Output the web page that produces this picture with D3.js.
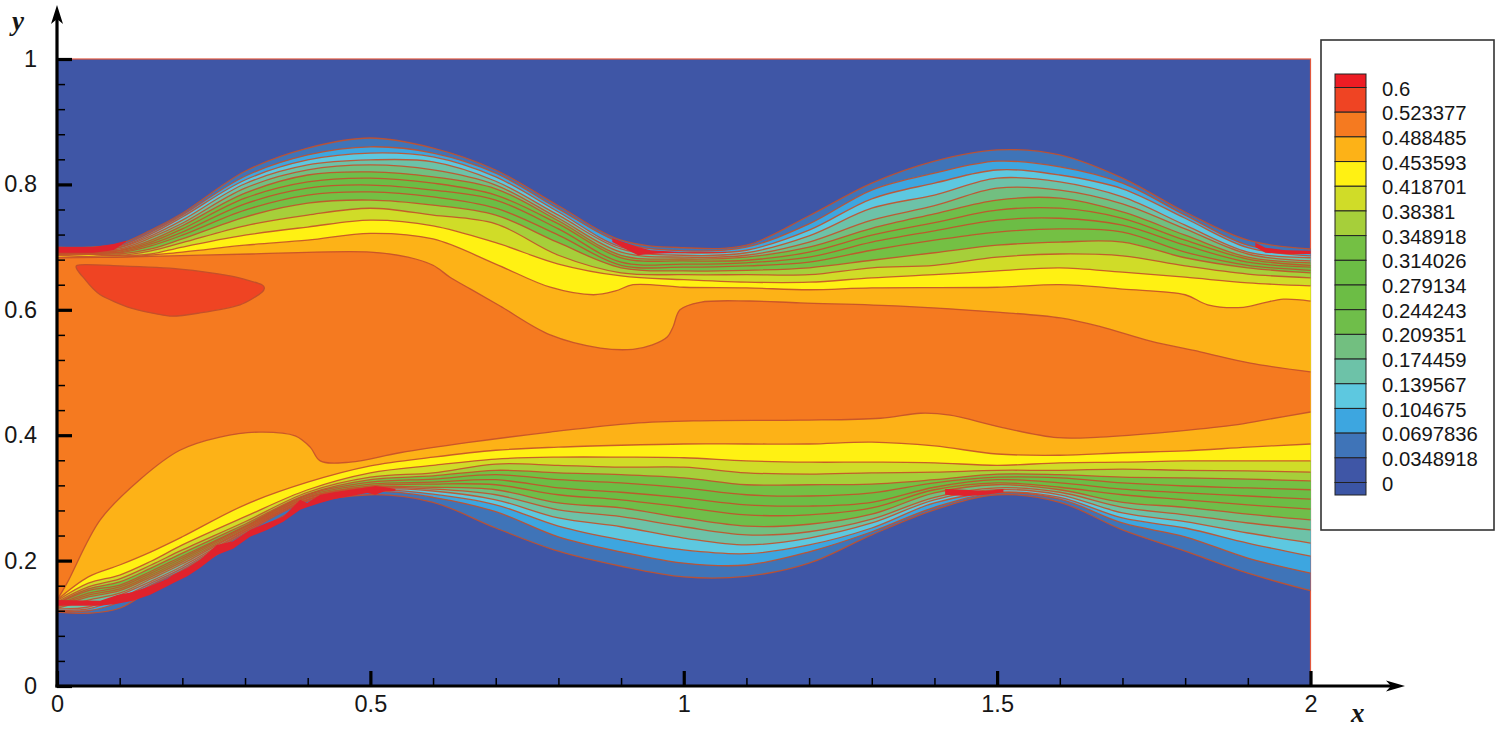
<!DOCTYPE html>
<html>
<head>
<meta charset="utf-8">
<script src="https://cdn.jsdelivr.net/npm/d3@7"></script>
<style>
    body { margin: 0; background: #fff; }
    text { font-family: "Liberation Sans", Arial, sans-serif; fill: #161616; }
    .axlabel { font-family: "Liberation Serif", serif; font-weight: bold; font-style: italic; font-size: 27px; }
    .contour { fill: none; stroke: #c4502a; stroke-width: 1.3; stroke-opacity: 0.9; }
</style>
</head>
<body>
<script>
// Legend
const levels = ["0.6", "0.523377", "0.488485", "0.453593", "0.418701", "0.38381", "0.348918",
    "0.314026", "0.279134", "0.244243", "0.209351", "0.174459", "0.139567", "0.104675",
    "0.0697836", "0.0348918", "0"];
const legendColors = ["#ed1c24", "#ef4423", "#f57a20", "#fdb217", "#fff113", "#d0dc28", "#a6cf3a",
    "#74c044", "#6cbd45", "#6cbd45", "#6fbe4a", "#72bf80", "#6dc2a8", "#5dc8e0", "#3da6e0",
    "#3f74b8", "#3f56a6", "#3b55a5"];

// Fill inside each contour, outermost first
const bandColors = ["#3f74b8", "#3da6e0", "#5dc8e0", "#6dc2a8", "#72bf80", "#6fbe4a", "#6cbd45",
    "#6cbd45", "#74c044", "#a6cf3a", "#d0dc28", "#fff113", "#fdb217", "#f57a20"];

const xMajor = [0, 0.5, 1, 1.5, 2];
const xMinor = [0.1, 0.2, 0.3, 0.4, 0.6, 0.7, 0.8, 0.9, 1.1, 1.2, 1.3, 1.4, 1.6, 1.7, 1.8, 1.9];
const yMajor = [0, 0.2, 0.4, 0.6, 0.8, 1];
const yMinor = [0.04, 0.08, 0.12, 0.16, 0.24, 0.28, 0.32, 0.36, 0.44, 0.48, 0.52, 0.56,
    0.64, 0.68, 0.72, 0.76, 0.84, 0.88, 0.92, 0.96];

// x stations at which the twelve outer contours were read
const stationX = [0, 0.05, 0.1, 0.15, 0.2, 0.3, 0.4, 0.5, 0.6, 0.7, 0.8, 0.9, 1, 1.1, 1.2, 1.3,
    1.4, 1.5, 1.6, 1.7, 1.8, 1.9, 2];

// one row per station, outer contour first
const upperRows = [
    [.700, .699, .697, .695, .694, .693, .692, .691, .691, .690, .689, .688],
    [.700, .699, .697, .695, .694, .693, .692, .691, .691, .690, .689, .688],
    [.705, .702, .700, .699, .697, .695, .694, .692, .691, .689, .687, .686],
    [.727, .724, .721, .718, .715, .711, .708, .705, .702, .697, .694, .689],
    [.754, .751, .748, .743, .738, .734, .729, .724, .719, .713, .707, .700],
    [.821, .813, .807, .801, .794, .786, .778, .769, .759, .748, .734, .719],
    [.858, .847, .839, .831, .823, .815, .804, .794, .783, .770, .751, .732],
    [.874, .860, .850, .839, .831, .820, .810, .799, .788, .775, .762, .743],
    [.858, .850, .844, .836, .823, .812, .802, .791, .780, .767, .751, .734],
    [.823, .818, .812, .805, .799, .793, .783, .775, .762, .751, .737, .707],
    [.766, .761, .756, .751, .746, .742, .737, .729, .719, .707, .687, .673],
    [.711, .707, .700, .697, .692, .687, .683, .676, .671, .667, .659, .654],
    [.699, .694, .691, .687, .684, .681, .678, .673, .668, .662, .656, .648],
    [.703, .700, .695, .691, .687, .684, .679, .675, .670, .663, .656, .644],
    [.750, .737, .727, .718, .708, .700, .692, .684, .676, .667, .656, .644],
    [.802, .791, .777, .762, .743, .730, .719, .708, .695, .679, .667, .651],
    [.837, .818, .802, .783, .766, .753, .739, .726, .711, .691, .671, .656],
    [.855, .837, .823, .810, .794, .775, .759, .743, .724, .703, .684, .662],
    [.847, .828, .815, .804, .791, .778, .762, .746, .729, .708, .689, .667],
    [.810, .802, .793, .780, .769, .756, .746, .735, .724, .708, .686, .660],
    [.756, .751, .746, .735, .729, .719, .711, .703, .692, .683, .670, .652],
    [.711, .703, .699, .692, .689, .684, .681, .676, .671, .667, .657, .643],
    [.697, .691, .686, .683, .678, .675, .671, .668, .663, .659, .651, .638]
];
const lowerRows = [
    [.118, .120, .121, .123, .124, .126, .128, .129, .131, .132, .134, .136],
    [.116, .120, .123, .126, .137, .142, .145, .148, .152, .155, .158, .164],
    [.124, .134, .140, .145, .148, .152, .155, .158, .161, .166, .171, .177],
    [.153, .161, .164, .167, .171, .174, .177, .180, .183, .188, .193, .199],
    [.177, .185, .188, .191, .195, .198, .201, .204, .207, .212, .217, .225],
    [.236, .244, .246, .247, .249, .250, .252, .254, .255, .258, .262, .270],
    [.289, .295, .297, .297, .298, .300, .301, .303, .305, .306, .309, .313],
    [.305, .311, .313, .314, .316, .317, .319, .322, .325, .329, .333, .340],
    [.293, .301, .306, .311, .314, .317, .322, .325, .330, .335, .340, .352],
    [.252, .278, .289, .297, .305, .313, .321, .329, .337, .344, .354, .362],
    [.215, .238, .255, .268, .281, .292, .305, .316, .329, .340, .352, .365],
    [.191, .214, .233, .254, .270, .284, .297, .309, .324, .337, .349, .365],
    [.174, .196, .217, .236, .254, .268, .285, .300, .316, .332, .349, .364],
    [.175, .193, .211, .225, .241, .255, .273, .289, .305, .321, .340, .359],
    [.196, .214, .225, .236, .246, .258, .273, .287, .303, .321, .338, .357],
    [.241, .246, .252, .260, .266, .274, .284, .293, .308, .322, .340, .357],
    [.281, .285, .292, .297, .301, .308, .313, .317, .324, .329, .341, .356],
    [.305, .308, .309, .313, .316, .321, .324, .329, .333, .338, .344, .352],
    [.293, .298, .301, .305, .309, .313, .317, .324, .332, .337, .344, .356],
    [.249, .260, .268, .276, .285, .293, .305, .314, .324, .333, .346, .357],
    [.215, .238, .252, .262, .273, .285, .297, .308, .319, .332, .344, .359],
    [.180, .204, .228, .244, .260, .274, .289, .303, .316, .330, .343, .359],
    [.152, .180, .207, .228, .249, .265, .282, .298, .313, .327, .341, .359]
];

// amber top, upper side
const amberUpX = [0, .101, .2, .3, .4, .5, .6, .7, .787, .856, .891, .919, 1, 1.1, 1.2, 1.3, 1.5, 1.6, 1.7, 1.8, 1.836, 1.893, 1.925, 1.957, 2];
const amberUpY = [.687, .684, .692, .703, .711, .722, .713, .673, .636, .624, .630, .640, .636, .635, .632, .635, .636, .640, .633, .624, .608, .604, .611, .617, .614];
// amber top, lower side
const amberLowX = stationX;
const amberLowY = [.137, .174, .193, .214, .238, .289, .325, .351, .365, .376, .381, .384, .386, .386, .386, .389, .383, .370, .368, .372, .375, .381, .386];
// orange core, upper side
const orangeUpX = [0, .101, .308, .5, .56, .6, .627, .66, .707, .787, .867, .919, .95, .974, .983, .994, 1.026, 1.106, 1.186, 1.346, 1.505, 1.601, 1.665, 1.745, 1.824, 1.904, 2];
const orangeUpY = [.683, .684, .689, .692, .684, .671, .652, .633, .606, .560, .539, .537, .544, .557, .573, .600, .612, .614, .611, .606, .596, .587, .573, .550, .533, .515, .501];
// orange core, lower side
const orangeLowX = [0, .016, .069, .132, .196, .26, .324, .38, .404, .42, .468, .547, .654, .787, .919, 1.026, 1.186, 1.314, 1.378, 1.425, 1.505, 1.596, 1.665, 1.772, 1.877, 1.925, 2];
const orangeLowY = [.137, .164, .265, .329, .376, .397, .405, .399, .381, .359, .357, .372, .388, .405, .419, .423, .424, .427, .435, .432, .413, .396, .397, .405, .416, .424, .437];
// the small 0.523377 island near the inlet
const islandX = [.032, .10, .196, .276, .327, .327, .292, .228, .180, .117, .069, .045];
const islandY = [.671, .670, .665, .654, .640, .628, .608, .595, .590, .603, .624, .648];

// red fringe where the contours pinch together: [x, top, bottom]
const fringeLowerLeft = [[0, .137, .128], [.069, .136, .128], [.096, .145, .131], [.121, .150, .136], [.148, .159, .145],
    [.176, .171, .159], [.185, .177, .164], [.208, .188, .175], [.228, .201, .188], [.255, .225, .209], [.281, .231, .219],
    [.308, .249, .238], [.335, .260, .249], [.361, .270, .262], [.388, .297, .281], [.399, .292, .285], [.42, .305, .292],
    [.441, .309, .298], [.495, .317, .308], [.508, .319, .305], [.524, .317, .311], [.54, .314, .311]];
const fringeUpperLeft = [[0, .700, .691], [.058, .700, .691], [.09, .705, .695], [.11, .710, .708]];
const fringeUpperMid = [[.886, .714, .708], [.907, .707, .697], [.927, .700, .687], [.947, .695, .689], [.994, .692, .691], [1.068, .692, .691]];
const fringeUpperRight = [[1.912, .707, .700], [1.928, .699, .691], [1.96, .695, .689], [2, .694, .689]];
const fringeLowerMid = [[1.417, .314, .305], [1.449, .313, .303], [1.481, .311, .305], [1.51, .314, .309]];

const fig = {
    width: 1500, height: 729,
    plot: {left: 57, right: 1310.5, top: 59, bottom: 686},
    legend: {left: 1321, top: 40, width: 173, height: 490}
};

const x = d3.scaleLinear().domain([0, 2]).range([fig.plot.left, fig.plot.right]);
const y = d3.scaleLinear().domain([0, 1]).range([fig.plot.bottom, fig.plot.top]);

const svg = d3.select("body").append("svg")
    .attr("width", fig.width)
    .attr("height", fig.height);

const myLine = d3.line()
    .x(d => x(d[0]))
    .y(d => y(d[1]))
    .curve(d3.curveCatmullRom.alpha(0.5));

// Each contour is kept as a pair of (x, y) lists, upper branch and lower branch
const upperCols = d3.transpose(upperRows);
const lowerCols = d3.transpose(lowerRows);
const contours = upperCols.map((col, i) => ({
    upper: d3.zip(stationX, col),
    lower: d3.zip(stationX, lowerCols[i])
}));
contours.push({upper: d3.zip(amberUpX, amberUpY), lower: d3.zip(amberLowX, amberLowY)});
contours.push({upper: d3.zip(orangeUpX, orangeUpY), lower: d3.zip(orangeLowX, orangeLowY)});

// Background field
svg.append("rect")
    .attr("x", x(0))
    .attr("y", y(1))
    .attr("width", x(2) - x(0))
    .attr("height", y(0) - y(1))
    .attr("fill", "#3f56a6")
    .attr("stroke", "#e2583e")
    .attr("stroke-width", 1.2);

// Painter's order: every region sits on top of the one around it
svg.append("g").selectAll("path")
    .data(contours)
    .join("path")
    .attr("d", d => myLine(d.upper) + myLine(d.lower.slice().reverse()).replace("M", "L") + "Z")
    .attr("fill", (d, i) => bandColors[i]);

svg.append("g").selectAll("path")
    .data(contours.flatMap(d => [d.upper, d.lower]))
    .join("path")
    .classed("contour", true)
    .attr("d", myLine);

// Red fringes, jagged like the grid cells in the original
const fringeArea = d3.area()
    .x(d => x(d[0]))
    .y0(d => y(d[2]))
    .y1(d => y(d[1]));

svg.append("g").selectAll("path")
    .data([fringeLowerLeft, fringeUpperLeft, fringeUpperMid, fringeUpperRight, fringeLowerMid])
    .join("path")
    .attr("d", fringeArea)
    .attr("fill", "#e0222c");

// Island
svg.append("path")
    .datum(d3.zip(islandX, islandY))
    .attr("d", d3.line().x(d => x(d[0])).y(d => y(d[1])).curve(d3.curveCardinalClosed.tension(0.3)))
    .attr("fill", "#ef4423")
    .attr("stroke", "#c4502a")
    .attr("stroke-width", 1.3);

// Axes
const axisColor = "#000";

function styleAxis(g, width) {
    g.select(".domain").remove();
    g.selectAll(".tick line").attr("stroke", axisColor).attr("stroke-width", width);
}

svg.append("g")
    .attr("transform", "translate(0," + fig.plot.bottom + ")")
    .call(d3.axisBottom(x).tickValues(xMinor).tickSize(-8).tickFormat(""))
    .call(g => styleAxis(g, 1.5));

svg.append("g")
    .attr("transform", "translate(0," + fig.plot.bottom + ")")
    .call(d3.axisBottom(x).tickValues(xMajor).tickSize(-15).tickPadding(0).tickFormat(d => d))
    .call(g => styleAxis(g, 3.2))
    .call(g => g.selectAll("text")
        .attr("y", 9)
        .attr("dy", "0.71em")
        .attr("font-size", 23.5));

svg.append("g")
    .attr("transform", "translate(" + fig.plot.left + ",0)")
    .call(d3.axisLeft(y).tickValues(yMinor).tickSize(-8).tickFormat(""))
    .call(g => styleAxis(g, 1.5));

svg.append("g")
    .attr("transform", "translate(" + fig.plot.left + ",0)")
    .call(d3.axisLeft(y).tickValues(yMajor).tickSize(-15).tickFormat(d => d))
    .call(g => styleAxis(g, 3.2))
    .call(g => g.selectAll("text")
        .attr("x", -20)
        .attr("font-size", 23.5));

// Arrowed axis lines
svg.append("line")
    .attr("x1", fig.plot.left - 1.5).attr("x2", 1392)
    .attr("y1", fig.plot.bottom).attr("y2", fig.plot.bottom)
    .attr("stroke", axisColor).attr("stroke-width", 3.2);
svg.append("line")
    .attr("x1", fig.plot.left).attr("x2", fig.plot.left)
    .attr("y1", fig.plot.bottom + 1.5).attr("y2", 15)
    .attr("stroke", axisColor).attr("stroke-width", 3.2);
svg.append("path")
    .attr("d", "M1405,686 L1386,680.5 L1391,686 L1386,691.5 Z")
    .attr("fill", axisColor);
svg.append("path")
    .attr("d", "M57,5 L51,24 L57,19 L63,24 Z")
    .attr("fill", axisColor);

svg.append("text").classed("axlabel", true)
    .attr("x", 12).attr("y", 30).text("y");
svg.append("text").classed("axlabel", true)
    .attr("x", 1351).attr("y", 722).text("x");

// Legend box
svg.append("rect")
    .attr("x", fig.legend.left)
    .attr("y", fig.legend.top)
    .attr("width", fig.legend.width)
    .attr("height", fig.legend.height)
    .attr("fill", "#fff")
    .attr("stroke", "#333")
    .attr("stroke-width", 1.6);

const ly = d3.scalePoint().domain(levels).range([87.5, 482.5]);
const legendEdges = [74].concat(levels.map(d => ly(d))).concat([495]);

svg.append("g").selectAll("rect")
    .data(legendColors)
    .join("rect")
    .attr("x", 1335)
    .attr("width", 31)
    .attr("y", (d, i) => legendEdges[i])
    .attr("height", (d, i) => legendEdges[i + 1] - legendEdges[i])
    .attr("fill", d => d)
    .attr("stroke", "#222")
    .attr("stroke-width", 1);

svg.append("g").selectAll("text")
    .data(levels)
    .join("text")
    .attr("x", 1382)
    .attr("y", d => ly(d) + 1)
    .attr("dy", "0.35em")
    .attr("font-size", 20.3)
    .text(d => d);
</script>
</body>
</html>
